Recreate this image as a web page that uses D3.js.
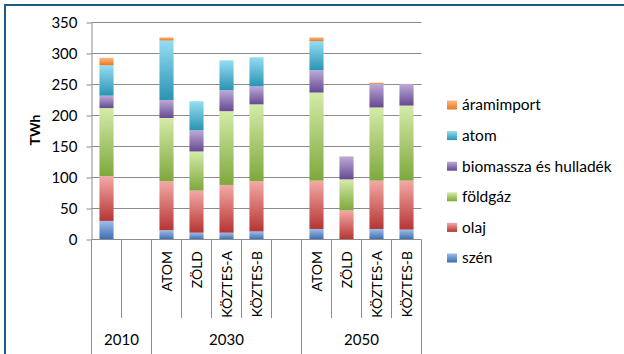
<!DOCTYPE html>
<html>
<head>
<meta charset="utf-8">
<script src="https://cdn.jsdelivr.net/npm/d3@7"></script>
<style>
  body { margin: 0; background: #fff; }
  svg { display: block; font-family: Lato, "Open Sans", sans-serif; }
</style>
</head>
<body>
<svg id="chart" width="624" height="354"></svg>
<script>
// slots on the x axis (blank slots keep the gaps between groups)
var scenarios = ["", "", "ATOM", "ZÖLD", "KÖZTES-A", "KÖZTES-B", "", "ATOM", "ZÖLD", "KÖZTES-A", "KÖZTES-B"];
var years = ["2010", "2030", "2050"];
var yearSlots = [[0, 2], [2, 7], [7, 11]];   // first slot, end slot of each year

// series, bottom to top of the stack
var series = ["szén", "olaj", "földgáz", "biomassza és hulladék", "atom", "áramimport"];
var szen       = [30, 0, 15, 11, 11, 13, 0, 17, 0, 17, 16];
var olaj       = [72, 0, 79, 68, 77, 81, 0, 78, 47, 78, 79];
var foldgaz    = [110, 0, 102, 63, 119, 124, 0, 142, 50, 118, 121];
var biomassza  = [20, 0, 29, 34, 34, 29, 0, 36, 37, 38, 35];
var atom       = [49, 0, 96, 47, 48, 47, 0, 47, 0, 0, 0];
var aramimport = [12, 0, 5, 0, 0, 0, 0, 6, 0, 2, 0];

var yTicks = [0, 50, 100, 150, 200, 250, 300, 350];

// light (top) and dark (bottom) colour of each series gradient
var lightColors = ["#9dbde8", "#f3a9a7", "#d4eba9", "#bcaad7", "#95ddf2", "#fbb985"];
var darkColors  = ["#3b6cb0", "#b53532", "#7ea83c", "#664990", "#2a93b3", "#e8781f"];

var values = [szen, olaj, foldgaz, biomassza, atom, aramimport];

var svg = d3.select("#chart");

// outer frame (only top and left edge visible)
svg.append("rect")
    .attr("x", 5).attr("y", 5)
    .attr("width", 700).attr("height", 400)
    .attr("fill", "none")
    .attr("stroke", "#1f5b7c")
    .attr("stroke-width", 2);

// gradients
var defs = svg.append("defs");
series.forEach(function(s, i) {
    var grad = defs.append("linearGradient")
        .attr("id", "grad" + i)
        .attr("x1", 0).attr("y1", 0).attr("x2", 0).attr("y2", 1);
    grad.append("stop").attr("offset", "0%").attr("stop-color", lightColors[i]);
    grad.append("stop").attr("offset", "100%").attr("stop-color", darkColors[i]);
});

// scales
var x = d3.scaleBand()
    .domain(d3.range(scenarios.length))
    .range([91.5, 421.5])
    .paddingInner(0.53)
    .paddingOuter(0.265);
var step = x.step();
var halfGap = (step - x.bandwidth()) / 2;
function slotLeft(i) { return x(i) - halfGap; }

var y = d3.scaleLinear().domain([0, 350]).range([239.5, 22.5]);

// gridlines
svg.append("g")
    .selectAll("line")
    .data(yTicks.slice(1))
    .enter().append("line")
    .attr("x1", 91.5).attr("x2", 421.5)
    .attr("y1", function(d) { return y(d); })
    .attr("y2", function(d) { return y(d); })
    .attr("stroke", "#8c8c8c");

// y axis
var yAxis = d3.axisLeft(y).tickValues(yTicks).tickSize(5).tickSizeOuter(0).tickPadding(9);
var gY = svg.append("g").attr("transform", "translate(91.5,0)").call(yAxis);
gY.select(".domain").attr("stroke", "#8c8c8c");
gY.selectAll(".tick line").attr("stroke", "#8c8c8c");
gY.selectAll(".tick text")
    .attr("font-size", "15px")
    .attr("font-family", "Lato, sans-serif")
    .attr("fill", "#000");

// y axis title
svg.append("text")
    .attr("transform", "translate(40,130) rotate(-90)")
    .attr("text-anchor", "middle")
    .attr("font-size", "14px")
    .attr("font-weight", "bold")
    .text("TWh");

// stacked bars
var stackData = scenarios.map(function(s, i) {
    var row = { idx: i };
    series.forEach(function(name, k) { row[name] = values[k][i]; });
    return row;
});
var stacked = d3.stack().keys(series)(stackData);

svg.append("g")
    .selectAll("g")
    .data(stacked)
    .enter().append("g")
    .attr("fill", function(d, i) { return "url(#grad" + i + ")"; })
    .selectAll("rect")
    .data(function(d) { return d.filter(function(p) { return p[1] - p[0] > 0; }); })
    .enter().append("rect")
    .attr("x", function(d) { return x(d.data.idx); })
    .attr("width", x.bandwidth())
    .attr("y", function(d) { return y(d[1]); })
    .attr("height", function(d) { return y(d[0]) - y(d[1]); });

// x axis line and slot separators
var axisG = svg.append("g").attr("stroke", "#8c8c8c");
axisG.append("line")
    .attr("x1", 91.5).attr("x2", 421.5)
    .attr("y1", 239.5).attr("y2", 239.5);

var groupEdges = [];
yearSlots.forEach(function(g) { groupEdges.push(g[0]); groupEdges.push(g[1]); });
var boundaries = d3.range(scenarios.length + 1);
axisG.selectAll(".sep")
    .data(boundaries)
    .enter().append("line")
    .attr("class", "sep")
    .attr("x1", function(d) { return d < scenarios.length ? slotLeft(d) : slotLeft(d - 1) + step; })
    .attr("x2", function(d) { return d < scenarios.length ? slotLeft(d) : slotLeft(d - 1) + step; })
    .attr("y1", 239.5)
    .attr("y2", function(d) { return groupEdges.indexOf(d) >= 0 ? 354 : 318; });

// scenario labels (rotated)
svg.append("g")
    .selectAll("text")
    .data(scenarios.map(function(s, i) { return { name: s, idx: i }; }).filter(function(d) { return d.name; }))
    .enter().append("text")
    .attr("transform", function(d) {
        return "translate(" + (x(d.idx) + x.bandwidth() / 2) + ",251) rotate(-90)";
    })
    .attr("text-anchor", "end")
    .attr("dy", "0.36em")
    .attr("font-size", "14px")
    .text(function(d) { return d.name; });

// year labels
svg.append("g")
    .selectAll("text")
    .data(years)
    .enter().append("text")
    .attr("x", function(d, i) {
        var g = yearSlots[i];
        return (slotLeft(g[0]) + slotLeft(g[1] - 1) + step) / 2;
    })
    .attr("y", 340)
    .attr("dy", "0.35em")
    .attr("text-anchor", "middle")
    .attr("font-size", "15px")
    .text(function(d) { return d; });

// legend (top series first)
var legend = svg.append("g")
    .selectAll("g")
    .data(series.slice().reverse())
    .enter().append("g")
    .attr("transform", function(d, i) { return "translate(447," + (105 + i * 30.6) + ")"; });
legend.append("rect")
    .attr("x", 0).attr("y", -4.5)
    .attr("width", 10).attr("height", 9)
    .attr("fill", function(d) { return "url(#grad" + series.indexOf(d) + ")"; });
legend.append("text")
    .attr("x", 15)
    .attr("dy", "0.35em")
    .attr("font-size", "15.5px")
    .text(function(d) { return d; });
</script>
</body>
</html>
